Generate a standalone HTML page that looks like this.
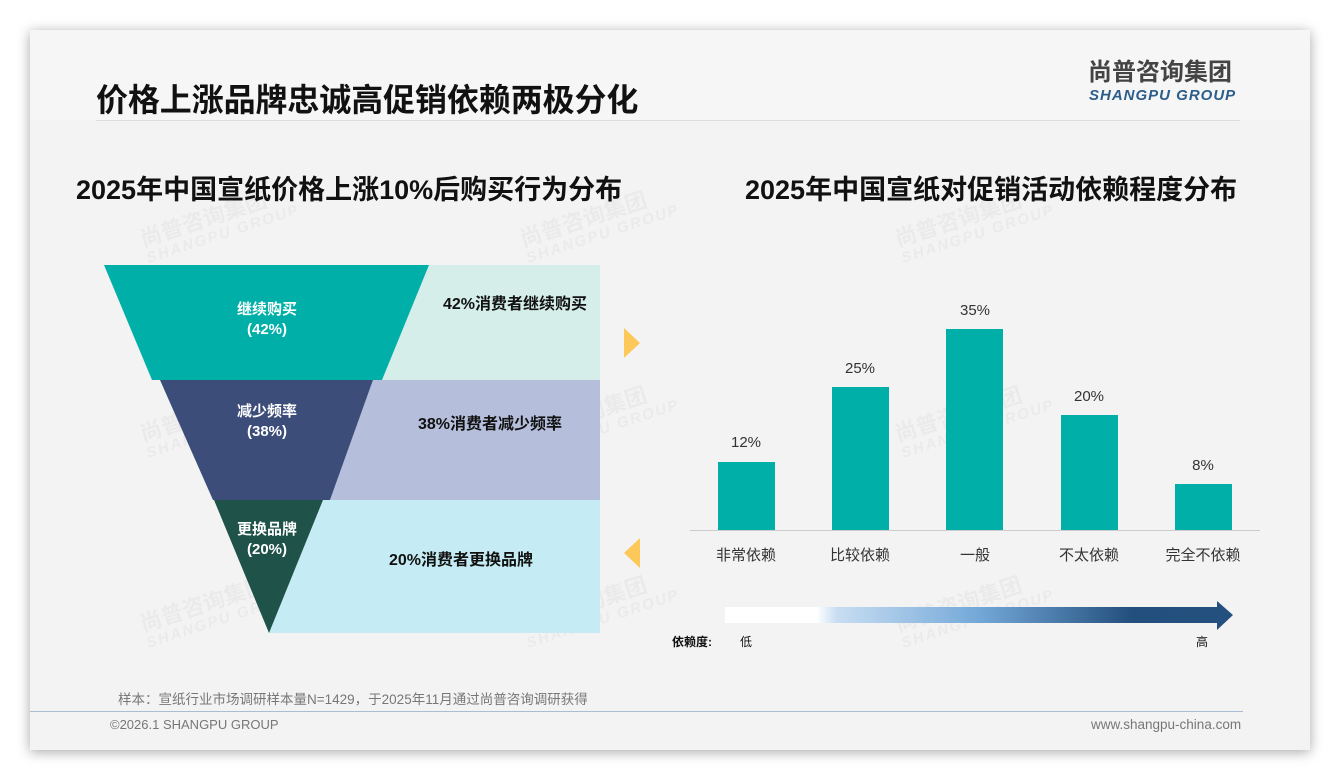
<!DOCTYPE html>
<html><head><meta charset="utf-8"><style>
body{margin:0;width:1340px;height:780px;background:#fff;position:relative;overflow:hidden;font-family:"Liberation Sans","Noto Sans CJK SC",sans-serif}
.slide{position:absolute;left:30px;top:30px;width:1280px;height:720px;background:#f3f3f3;box-shadow:0 2px 12px rgba(0,0,0,.35)}
.a{position:absolute;white-space:nowrap}
.wm{position:absolute;color:rgba(0,0,0,.035);font-weight:bold;transform:rotate(-18deg);font-size:22px;line-height:20px}
.wm i{display:block;font-size:15px;letter-spacing:2px}
</style></head><body>
<div class="slide"></div>
<div class="a" style="left:30px;top:30px;width:1280px;height:90px;background:#f6f6f6"></div>
<div class="a" style="left:96px;top:75px;font-size:32px;font-weight:bold;color:#111;letter-spacing:-0.1px">价格上涨品牌忠诚高促销依赖两极分化</div>
<div class="a" style="left:96px;top:120px;width:1144px;height:1px;background:#ddd"></div>
<div class="a" style="left:1088px;top:59px;font-size:24px;line-height:28px;font-weight:bold;color:#444;letter-spacing:0px">尚普咨询集团</div>
<div class="a" style="left:1089px;top:87px;font-size:15px;font-weight:bold;font-style:italic;color:#2b5e8a;letter-spacing:1px">SHANGPU GROUP</div>

<div class="wm" style="left:140px;top:205px">尚普咨询集团<i>SHANGPU GROUP</i></div>
<div class="wm" style="left:520px;top:205px">尚普咨询集团<i>SHANGPU GROUP</i></div>
<div class="wm" style="left:895px;top:205px">尚普咨询集团<i>SHANGPU GROUP</i></div>
<div class="wm" style="left:140px;top:400px">尚普咨询集团<i>SHANGPU GROUP</i></div>
<div class="wm" style="left:520px;top:400px">尚普咨询集团<i>SHANGPU GROUP</i></div>
<div class="wm" style="left:895px;top:400px">尚普咨询集团<i>SHANGPU GROUP</i></div>
<div class="wm" style="left:140px;top:590px">尚普咨询集团<i>SHANGPU GROUP</i></div>
<div class="wm" style="left:520px;top:590px">尚普咨询集团<i>SHANGPU GROUP</i></div>
<div class="wm" style="left:895px;top:590px">尚普咨询集团<i>SHANGPU GROUP</i></div>

<div class="a" style="left:76px;top:168px;font-size:27px;font-weight:bold;color:#111">2025年中国宣纸价格上涨10%后购买行为分布</div>
<div class="a" style="left:745px;top:168px;font-size:27px;font-weight:bold;color:#111">2025年中国宣纸对促销活动依赖程度分布</div>

<svg class="a" style="left:0;top:0" width="1340" height="780">
<polygon points="429,265 600,265 600,380 382,380" fill="#d5eee9"/>
<polygon points="373,380 600,380 600,500 330,500" fill="#b5bedb"/>
<polygon points="323,500 600,500 600,633 269,633" fill="#c5ecf4"/>
<polygon points="104,265 429,265 382,380 152,380" fill="#00b0a8"/>
<polygon points="160,380 373,380 330,500 213,500" fill="#3d4d7a"/>
<polygon points="214,500 323,500 269,633" fill="#1f5248"/>
<polygon points="624,328 640,343 624,358" fill="#fcc85a"/>
<polygon points="640,538 624,553 640,568" fill="#fcc85a"/>
<g font-family="Liberation Sans,Noto Sans CJK SC,sans-serif" font-weight="bold" font-size="15" text-anchor="middle" fill="#fff">
<text x="267" y="314">继续购买</text><text x="267" y="334">(42%)</text>
<text x="267" y="416">减少频率</text><text x="267" y="436">(38%)</text>
<text x="267" y="534">更换品牌</text><text x="267" y="554">(20%)</text>
</g>
<g font-family="Liberation Sans,Noto Sans CJK SC,sans-serif" font-weight="bold" font-size="16" fill="#111">
<text x="443" y="309">42%消费者继续购买</text>
<text x="418" y="429">38%消费者减少频率</text>
<text x="389" y="565">20%消费者更换品牌</text>
</g>
<line x1="690" y1="530.5" x2="1260" y2="530.5" stroke="#ccc"/>
<g fill="#00b0a8">
<rect x="718" y="462" width="57" height="68"/>
<rect x="832" y="387" width="57" height="143"/>
<rect x="946" y="329" width="57" height="201"/>
<rect x="1061" y="415" width="57" height="115"/>
<rect x="1175" y="484" width="57" height="46"/>
</g>
<g font-family="Liberation Sans,Noto Sans CJK SC,sans-serif" font-size="15" text-anchor="middle" fill="#333">
<text x="746" y="447">12%</text><text x="860" y="373">25%</text><text x="975" y="315">35%</text><text x="1089" y="401">20%</text><text x="1203" y="470">8%</text>
<text x="746" y="560">非常依赖</text><text x="860" y="560">比较依赖</text><text x="975" y="560">一般</text><text x="1089" y="560">不太依赖</text><text x="1203" y="560">完全不依赖</text>
</g>
<defs><linearGradient id="g" x1="0" x2="1">
<stop offset="0" stop-color="#fff"/><stop offset="0.18" stop-color="#fff"/><stop offset="0.22" stop-color="#c8ddf2"/><stop offset="0.5" stop-color="#74a8d8"/><stop offset="0.8" stop-color="#234f7d"/><stop offset="1" stop-color="#24507f"/></linearGradient></defs>
<polygon points="725,607 1217,607 1217,601 1233,615 1217,630 1217,623 725,623" fill="url(#g)"/>
<g font-family="Liberation Sans,Noto Sans CJK SC,sans-serif" font-size="12" fill="#111">
<text x="672" y="646" font-weight="bold">依赖度:</text><text x="740" y="646">低</text><text x="1196" y="646">高</text>
</g>
</svg>

<div class="a" style="left:118px;top:688px;font-size:13.5px;color:#777">样本：宣纸行业市场调研样本量N=1429，于2025年11月通过尚普咨询调研获得</div>
<div class="a" style="left:30px;top:711px;width:1213px;height:1px;background:#a9bed3"></div>
<div class="a" style="left:110px;top:717px;font-size:13px;color:#777">©2026.1 SHANGPU GROUP</div>
<div class="a" style="left:1091px;top:717px;font-size:13.5px;color:#777">www.shangpu-china.com</div>
</body></html>
